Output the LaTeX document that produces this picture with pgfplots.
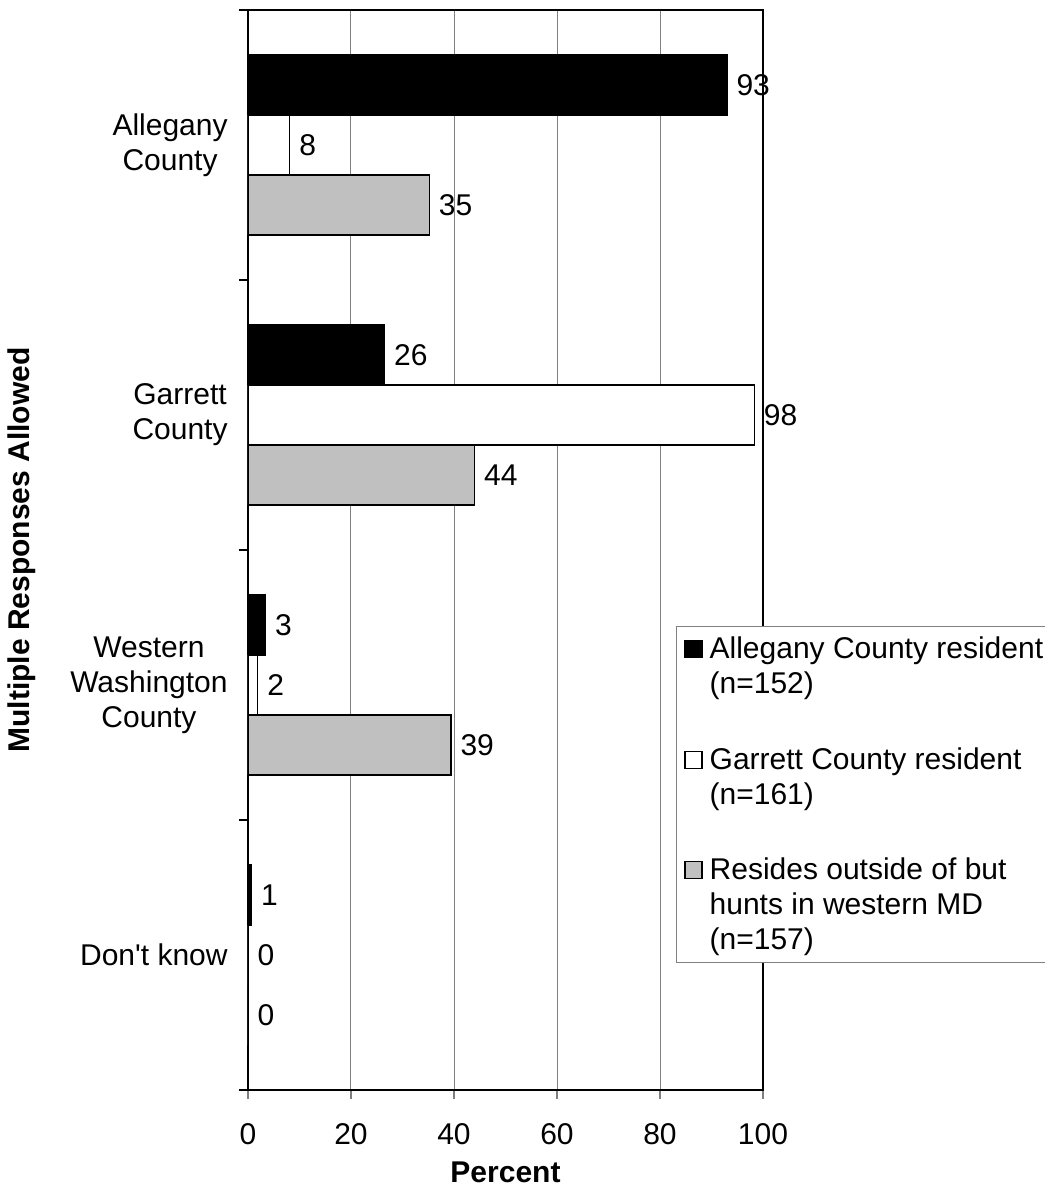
\documentclass[border=0pt]{standalone}
\usepackage{pgfplots}
\pgfplotsset{compat=1.18}
\usepackage{fontspec}
\setmainfont{Liberation Sans}
\newcommand{\cfont}{\fontsize{15pt}{17.5pt}\selectfont}
\newcommand{\bfont}{\fontsize{15pt}{17.5pt}\selectfont\bfseries}
\definecolor{barg}{HTML}{C0C0C0}
\definecolor{gridg}{HTML}{808080}
\pgfplotsset{
  sqtwo/.style={legend image code/.code={\draw[##1, draw=black, line width=0.6pt] (0pt,4.5pt) rectangle (8.5pt,13pt);}},
  sqthree/.style={legend image code/.code={\draw[##1, draw=black, line width=0.6pt] (0pt,13.25pt) rectangle (8.5pt,21.75pt);}},
}
\begin{document}
\begin{tikzpicture}
\path[use as bounding box] (-124pt,-54pt) rectangle (398pt,545pt);
\begin{axis}[
  at={(0,0)}, anchor=south west,
  scale only axis,
  width=257.5pt, height=540pt,
  xmin=0, xmax=100,
  ymin=-0.5, ymax=3.5,
  y dir=reverse,
  xtick={0,20,40,60,80,100},
  xmajorgrids,
  major grid style={gridg, line width=0.5pt},
  axis line style={black, line width=1pt},
  tick align=outside,
  tick pos=left,
  x tick style={gridg, line width=0.6pt},
  major tick length=4.5pt,
  ytick={0,1,2,3},
  yticklabels={{Allegany\\County},{Garrett\\County},{Western\\Washington\\County},{Don\textquotesingle t know}},
  y tick style={draw=none},
  extra y ticks={-0.5,0.5,1.5,2.5,3.5},
  extra y tick labels={},
  extra y tick style={y tick style={draw=black, line width=0.6pt}},
  yticklabel style={font=\cfont, align=center, anchor=east, inner sep=0pt, xshift=-5.5pt},
  xticklabel style={font=\cfont, anchor=north, inner sep=0pt, yshift=-12pt},
  /pgf/number format/assume math mode=true,
  xlabel={Percent},
  ylabel={Multiple Responses Allowed},
  every axis x label/.style={at={(axis description cs:0.5,-0.0759)}, anchor=center, font=\bfont},
  every axis y label/.style={at={(axis description cs:-0.4388,0.5)}, rotate=90, anchor=center, font=\bfont},
  xbar,
  bar width=0.2222,
  point meta=explicit symbolic,
  nodes near coords,
  every node near coord/.append style={font=\cfont, anchor=west, inner sep=0pt, xshift=4.5pt},
  legend style={at={(axis description cs:0.831,0.4296)}, anchor=north west,
    draw=gridg, line width=0.5pt, fill=white, font=\cfont,
    cells={align=left}, nodes={inner ysep=0pt},
    row sep=25.5pt, column sep=1.5pt, inner xsep=4pt, inner ysep=5pt},
  legend cell align=left,
]
\addplot[fill=black, draw=black, line width=0.6pt, bar shift=-0.2222, sqtwo] coordinates {
  (93,0) [93]
  (26.5,1) [26]
  (3.4,2) [3]
  (0.7,3) [1]
};
\addlegendentry{Allegany County resident\\(n=152)}
\addplot[fill=white, draw=black, line width=0.6pt, bar shift=0, sqtwo] coordinates {
  (8.1,0) [8]
  (98.3,1) [98]
  (1.9,2) [2]
  (0,3) [0]
};
\addlegendentry{Garrett County resident\\(n=161)}
\addplot[fill=barg, draw=black, line width=0.6pt, bar shift=0.2222, sqthree] coordinates {
  (35.2,0) [35]
  (44,1) [44]
  (39.4,2) [39]
  (0,3) [0]
};
\addlegendentry{Resides outside of but\\hunts in western MD\\(n=157)}
\end{axis}
\end{tikzpicture}
\end{document}
